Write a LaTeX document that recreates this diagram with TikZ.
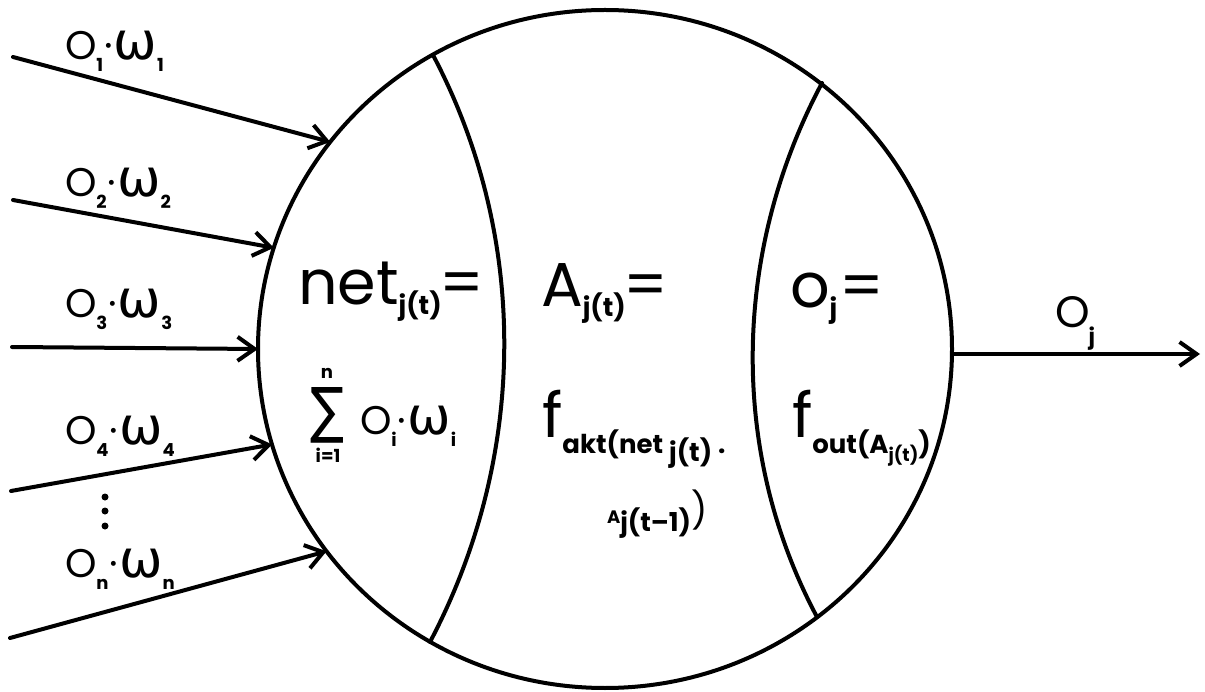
\documentclass[tikz,border=0pt]{standalone}
\usepackage{fontspec}
\setmainfont{Poppins}
\newfontfamily\gr{DejaVu Sans}
\usetikzlibrary{arrows.meta,shapes.geometric}
\newcommand\fbig{\fontsize{62}{62}\selectfont}
\newcommand\fsub{\fontsize{26}{26}\selectfont\bfseries}
\newcommand\ftiny{\fontsize{18}{18}\selectfont\bfseries}
\newcommand\flab{\fontsize{40}{40}\selectfont}
\newcommand\flsub{\fontsize{18}{18}\selectfont\bfseries}
\newcommand\dn[2]{\raisebox{-#1}{#2}}
\newcommand\om{{\gr\fontsize{52}{52}\selectfont ω}}
\newcommand\inlab[1]{O\dn{12pt}{\flsub #1}\hspace{1pt}·\hspace{1pt}\om\dn{12pt}{\flsub #1}}
\begin{document}
\begin{tikzpicture}[x=1pt,y=-1pt,line width=4pt,
  every node/.style={inner sep=0pt,outer sep=0pt},
  inarrow/.style={-{Straight Barb[length=17pt,width=24pt]},line cap=round},
  divider/.style={line cap=round},
  lab/.style={anchor=base west,font=\flab},
  formula/.style={anchor=base west}]
\useasboundingbox (0,0) rectangle (1205,692);
% neuron body
\node[draw,ellipse,minimum width=694pt,minimum height=678pt] (cell) at (605,349) {};
% dividing arcs
\coordinate (d1t) at (433,55);
\coordinate (d1b) at (430,642);
\coordinate (d2t) at (822,83);
\coordinate (d2b) at (817,617);
\draw[divider] (d1t) .. controls (530,239) and (527,458) .. (d1b);
\draw[divider] (d2t) .. controls (733,250) and (728,450) .. (d2b);
% inputs
\coordinate (s1) at (13,57);
\coordinate (s2) at (13,200);
\coordinate (s3) at (12,347);
\coordinate (s4) at (11,491);
\coordinate (s5) at (10,638);
\draw[inarrow] (s1) -- (cell.143);
\draw[inarrow] (s2) -- (cell.163);
\draw[inarrow] (s3) -- (cell.180);
\draw[inarrow] (s4) -- (cell.196);
\draw[inarrow] (s5) -- (cell.216);
\node[lab] (l1) at (65,60) {\inlab{1}};
\node[lab] (l2) at (65,197) {\inlab{2}};
\node[lab] (l3) at (65,318) {\inlab{3}};
\node[lab] (l4) at (65,445) {\inlab{4}};
\node[lab] (l5) at (65,577) {\inlab{n}};
\fill (105,497) circle (3.5pt);
\fill (105,511) circle (3.5pt);
\fill (105,526) circle (3.5pt);
% output
\coordinate (oend) at (1200,354);
\draw[inarrow] (cell.east |- oend) -- (oend);
\node[formula] (olab) at (1055,328) {\fontsize{44}{44}\selectfont O\hspace{-1pt}\dn{17pt}{\fontsize{22}{22}\selectfont\bfseries j}};
% net section
\node[formula] (net) at (298,305) {\fbig net\dn{10pt}{\fsub j(t)}\hspace{-2pt}=};
\node (sum) at (327,415) {\resizebox{34pt}{44pt}{\gr ∑}};
\node[font=\flsub] (sumn) at (327,373) {n};
\node[font=\flsub] (sumi) at (328,455) {i=1};
\node[lab] (osum) at (360,435) {\inlab{i}};
% activation section
\node[formula] (A) at (541,307) {\fbig A\dn{10pt}{\fsub j(t)}\hspace{-2pt}=};
\node[formula] (fakt) at (542,438) {\fbig f\dn{16pt}{\fsub akt(net\hspace{6pt}\dn{8pt}{j(t)}\hspace{6pt}.}};
\node[formula] (aprev) at (607,523) {{\ftiny A}\dn{8pt}{\fsub j(t–1)}{\fontsize{36}{36}\selectfont )}};
% output section
\node[formula] (oj) at (790,308) {\fbig o\dn{10pt}{\fsub j}\hspace{2pt}=};
\node[formula] (fout) at (792,438) {\fbig f\dn{16pt}{\fsub out(A\dn{8pt}{\ftiny j(t)})}};
\end{tikzpicture}
\end{document}
